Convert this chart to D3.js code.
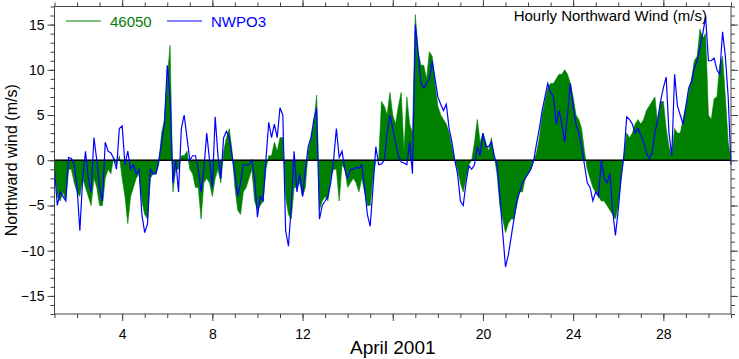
<!DOCTYPE html>
<html>
<head>
<meta charset="utf-8">
<script src="https://cdnjs.cloudflare.com/ajax/libs/d3/7.8.5/d3.min.js"></script>
<style>
  body { margin: 0; background: #fff; }
  svg { display: block; font-family: "Liberation Sans", Arial, sans-serif; }
</style>
</head>
<body>
<svg width="739" height="359"></svg>
<script>
var width = 739;
var height = 359;
var margin = {left: 54.5, right: 8, top: 6.5, bottom: 45};

// 3-hourly samples starting April 1 00:00 (8 per day)
var buoy46050 = [
  -1, -4, -4.5, -3.5, -4.5, -1, -1, -2.5,
  -3.5, -4, -2, -3, -4, -5, -2, -3,
  -5, -5, -2, -1, -1.5, 0.3, -0.5, 0.5,
  -2, -4, -7, -4, -3, -2, -1.5, -4.5,
  -6, -6.5, -2, -1.5, -1.5, -0.5, 3, 4.5,
  9, 12.7, -3.5, -1, -1, 0.5, 0.5, 1,
  -1, -1.5, -3, -3, -6.5, -2.5, -2, -2.5,
  -4, -2, -1, -2.5, 1, 2.5, 3.5, 1,
  -3, -5.5, -6, -3.5, -3, -2, -1, -4.5,
  -5.5, -5, -4.5, -1, 0.5, 0.5, 2, 1,
  2.5, 2.5, -4, -6, -6.5, -3, -3, -2.5,
  -4, -3, 1, 2.5, 4, 7.2, -5.5, -4.5,
  -4, -4.5, -2, -1, -1, -4.5, -0.5, -1,
  -3, -2.5, -2, -2.5, -3.5, -2, -3.5, -5,
  -5, -2, 0, 0, 6.5, 6, 5, 7.5,
  5, 4, 6, 7.5, 1, 7, 4, 3,
  16.1, 12, 10.5, 10.5, 9, 12, 11.5, 8.5,
  6, 5, 4.5, 4, 3, 1.5, 0, -1,
  -2.5, -3.5, -2, -0.5, 0, 2, 4.5, 2,
  3, 2, 1, 2.5, 0.5, -1.5, -5, -6.5,
  -8, -7, -6.5, -6.5, -5, -3.5, -3.5, -2,
  -1.5, -1, 0, 0.8, 2.5, 5, 6.5, 8,
  8.5, 8.5, 9, 9.5, 9.5, 10, 9.5, 8.5,
  7, 5, 4.5, 3.5, 1, -1, -2, -3,
  -3.5, -4, -4.5, -4.5, -5, -5.5, -6, -6.5,
  -5, -2, 0.5, 3, 2.5, 3, 4, 4.5,
  4, 4.5, 5.5, 6, 6.5, 7, 4, 6.5,
  6.5, 3.5, 1.5, 0.5, 3.5, 3, 3, 4.5,
  6, 7.5, 9, 11, 11.5, 14.5, 13.5, 14,
  5, 4.5, 6.8, 7, 10.5, 11.5, 7, 2,
  0
];

var nwpo3 = [
  -1, -5, -3.5, -4, -4.5, 0.3, 0.2, -0.5,
  -3, -7.8, -2, 1, -2, -3.5, 2.5, 0,
  -3, -4.5, 2, 1, 0.8, 0.2, -1, 3.5,
  3.8, -0.5, 1, -1, -0.5, -1.5, -1, -6,
  -8, -7, -1, -1.5, -1.5, 0, 2, 4,
  10.5, 7, -2.5, 0, -3.5, 3.5, 5, 2.5,
  0, 0.5, 0.5, -1, -3.5, -1, 3, 0,
  -3, 4.8, 0.5, -2, 2.5, 3.2, 2.5, 0.5,
  -1.5, -4, -2.5, -0.5, -0.5, -0.5, 0, -2,
  -6.3, -4, -4.5, 0, 4.2, 2.5, 4, 2.5,
  5.8, 5, -7.8, -9.5, -5, 1, -3.5, -1.5,
  -4, -1, 1.5, 2.5, 4.5, 5.8, -6.5, -5,
  -4.5, -4, -2.5, 0, 3.5, 0.3, 1, -1,
  -2, -1, -1, -0.8, -0.9, -0.5, -3, -6,
  -7.3, -3, 1.5, -0.5, -0.4, 0, 3, 5,
  3.5, 2, 0.5, -0.2, -0.3, -0.5, 2, -1.5,
  15, 12, 8.5, 8, 8.5, 9, 11, 9,
  7, 6.2, 5.5, 6.2, 3.5, 2, 0, -1.5,
  -4.5, -5, -2.5, -0.6, -1, -0.5, 1.5, 0.5,
  3, 1.5, 1.5, 2, 0.5, -0.5, -4, -8,
  -11.8, -10.5, -8.5, -6.5, -4.5, -3.5, -2.5, -2,
  -1.5, -1, 0, 1.8, 3.5, 5.5, 7, 8.5,
  7.5, 7, 4, 5.5, 4, 2, 5, 8.5,
  6, 4, 3, 1.5, -0.5, -2.5, -3, -4.5,
  -3.5, -4, 0, -2, -2.5, -1.5, -5.5, -8.3,
  -5.5, -2, 0.5, 4.8, 4.5, 4, 3, 3.5,
  2.8, 2, 0.8, 0.2, 0.8, 3, 4.5, 6.5,
  8, 9.2, 3, 0.5, 9.5, 6, 5, 4,
  6, 8, 8.7, 10.2, 11, 12.5, 14, 15.9,
  11, 11, 11.3, 10, 9.5, 14.2, 11.5, 7,
  -0.5
];

// major day ticks; the one under the "April 2001" label carries no number
var dayMajor = [4, 8, 12, 16, 20, 24, 28];
var dayLabels = ['4', '8', '12', '', '20', '24', '28'];
var dayMinor = d3.range(1, 32);
var windMajor = [-15, -10, -5, 0, 5, 10, 15];
var windMinor = d3.range(-17, 18);

var stepsPerDay = 8;

//Scales
var xScale = d3.scaleLinear().domain([1, 31]).range([margin.left, width - margin.right]);
var yScale = d3.scaleLinear().domain([-17, 17]).range([height - margin.bottom, margin.top]);

var svg = d3.select('svg');

function toPoints (arr) {
  return arr.map(function (v, i) { return {day: 1 + i / stepsPerDay, v: v}; });
}

var area = d3.area()
  .x(function (d) { return xScale(d.day); })
  .y0(yScale(0))
  .y1(function (d) { return yScale(d.v); });

var line = d3.line()
  .x(function (d) { return xScale(d.day); })
  .y(function (d) { return yScale(d.v); });

var plot = svg.append('g');

// 46050 filled against zero
plot.append('path')
  .datum(toPoints(buoy46050))
  .attr('d', area)
  .attr('fill', '#008000')
  .attr('stroke', '#008000')
  .attr('stroke-width', 0.6);

// zero line
plot.append('line')
  .attr('x1', xScale(1)).attr('x2', xScale(31))
  .attr('y1', yScale(0)).attr('y2', yScale(0))
  .attr('stroke', '#000')
  .attr('stroke-width', 1.5);

// NWPO3 line
plot.append('path')
  .datum(toPoints(nwpo3))
  .attr('d', line)
  .attr('fill', 'none')
  .attr('stroke', '#0000ff')
  .attr('stroke-width', 1.2);

//The axes (ticks outward on all four sides)
function styleAxis (g) {
  g.select('.domain').remove();
  g.selectAll('line').attr('stroke', '#444');
  g.selectAll('text').attr('fill', '#000').style('font-size', '14px').style('font-family', '"Liberation Sans", Arial, sans-serif');
}

var bottomY = yScale(-17), topY = yScale(17);
var leftX = xScale(1), rightX = xScale(31);

svg.append('g').attr('transform', 'translate(0,' + bottomY + ')')
  .call(d3.axisBottom(xScale).tickValues(dayMinor).tickSize(4).tickFormat(''))
  .call(styleAxis);
svg.append('g').attr('transform', 'translate(0,' + bottomY + ')')
  .call(d3.axisBottom(xScale).tickValues(dayMajor).tickSize(7).tickPadding(8)
    .tickFormat(function (d, i) { return dayLabels[i]; }))
  .call(styleAxis);
svg.append('g').attr('transform', 'translate(0,' + topY + ')')
  .call(d3.axisTop(xScale).tickValues(dayMinor).tickSize(4).tickFormat(''))
  .call(styleAxis);
svg.append('g').attr('transform', 'translate(0,' + topY + ')')
  .call(d3.axisTop(xScale).tickValues(dayMajor).tickSize(7).tickFormat(''))
  .call(styleAxis);

svg.append('g').attr('transform', 'translate(' + leftX + ',0)')
  .call(d3.axisLeft(yScale).tickValues(windMinor).tickSize(4).tickFormat(''))
  .call(styleAxis);
svg.append('g').attr('transform', 'translate(' + leftX + ',0)')
  .call(d3.axisLeft(yScale).tickValues(windMajor).tickSize(7).tickPadding(3).tickFormat(d3.format('d')))
  .call(styleAxis);
svg.append('g').attr('transform', 'translate(' + rightX + ',0)')
  .call(d3.axisRight(yScale).tickValues(windMinor).tickSize(4).tickFormat(''))
  .call(styleAxis);
svg.append('g').attr('transform', 'translate(' + rightX + ',0)')
  .call(d3.axisRight(yScale).tickValues(windMajor).tickSize(7).tickFormat(''))
  .call(styleAxis);

// frame
svg.append('rect')
  .attr('x', leftX).attr('y', topY)
  .attr('width', rightX - leftX).attr('height', bottomY - topY)
  .attr('fill', 'none')
  .attr('stroke', '#444')
  .attr('stroke-width', 1);

// legend
var legend = [
  {name: '46050', color: '#008000', x: 66},
  {name: 'NWPO3', color: '#0000ff', x: 167}
];
legend.forEach(function (d) {
  svg.append('line')
    .attr('x1', d.x).attr('x2', d.x + 35)
    .attr('y1', 21).attr('y2', 21)
    .attr('stroke', d.color).attr('stroke-width', 1.2);
  svg.append('text')
    .attr('x', d.x + 44).attr('y', 27)
    .attr('fill', d.color)
    .style('font-size', '15px')
    .text(d.name);
});

// title inside plot, top right
svg.append('text')
  .attr('x', 707).attr('y', 21)
  .style('text-anchor', 'end')
  .style('font-size', '15px')
  .text('Hourly Northward Wind (m/s)');

// y axis label
svg.append('text')
  .attr('transform', 'rotate(-90)')
  .attr('x', -(topY + bottomY) / 2)
  .attr('y', 17)
  .style('text-anchor', 'middle')
  .style('font-size', '16px')
  .text('Northward wind (m/s)');

// x axis label
svg.append('text')
  .attr('x', (leftX + rightX) / 2)
  .attr('y', 354)
  .style('text-anchor', 'middle')
  .style('font-size', '19px')
  .text('April 2001');
</script>
</body>
</html>
